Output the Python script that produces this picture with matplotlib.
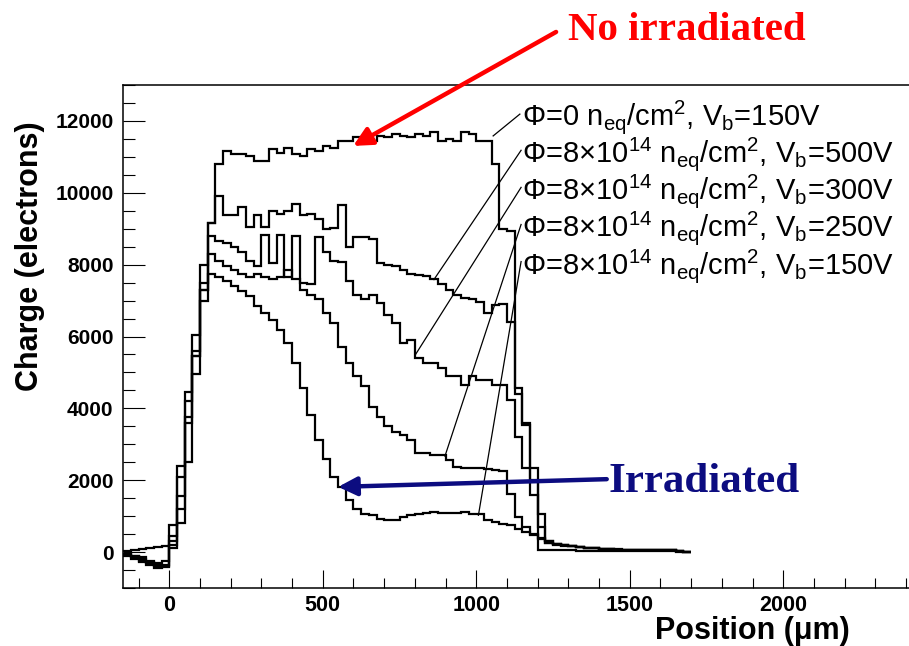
import numpy as np
import matplotlib
matplotlib.use('Agg')
import matplotlib.pyplot as plt
from matplotlib.ticker import MultipleLocator

plt.rcParams['font.family'] = ['Liberation Sans', 'DejaVu Sans']
plt.rcParams['mathtext.fontset'] = 'custom'
plt.rcParams['mathtext.rm'] = 'Liberation Sans'
plt.rcParams['mathtext.it'] = 'Liberation Sans:italic'
plt.rcParams['mathtext.bf'] = 'Liberation Sans:bold'

# strip scan binning (um), 25 um pitch
bin_edges = np.arange(-150, 1725, 25)

# collected charge per bin (electrons)
charge_phi0_150v = [
    20, 50, 80, 110, 140, 170,
    750, 2400, 4450, 6050, 8000, 9150,
    10800, 11160, 11070, 11070, 11020, 10890, 10890, 11210, 11120, 11260,
    11070, 11020, 11210, 11160, 11300, 11260, 11440, 11440, 11540, 11500,
    11440, 11580, 11540, 11630, 11580, 11540, 11630, 11580, 11680, 11440,
    11490, 11440, 11680, 11630, 11440, 11440, 10800,
    9000, 8950, 4560, 3550, 2330, 60, 50,
    50, 50, 45, 40, 40, 35, 30, 30, 30, 25, 30, 35, 40, 35, 30, 25, 15, 10,
]
charge_phi8_500v = [
    -50, -100, -150, -250, -300, -250,
    450, 2100, 4200, 5600, 7500, 9150,
    9900, 9370, 9380, 9600, 9050, 9370, 9050, 9500, 9420, 9500,
    9680, 9370, 9400, 9280, 8980, 9020, 9650, 8500, 8780, 8770,
    8720, 8050, 7980, 7950, 7860, 7750, 7720, 7680, 7600, 7450,
    7300, 7160, 7080, 7050, 6960, 6650, 6890,
    6900, 6400, 4400, 3580, 2000, 1070, 300,
    220, 190, 160, 140, 120, 105, 95, 85, 75, 65, 60, 55, 50, 55, 60, 50, 35, 15,
]
charge_phi8_300v = [
    -80, -150, -250, -300, -350, -350,
    300, 1550, 3750, 5450, 7300, 8800,
    8650, 8600, 8500, 8350, 8100, 7950, 8830, 8050, 8830, 7650,
    8800, 7500, 7450, 8780, 8350, 8100, 8080, 7550, 7150, 7030,
    7160, 6930, 6600, 6380, 5820, 5900, 5400, 5260, 5260, 5120,
    4890, 4890, 4650, 4890, 4790, 4790, 4650,
    4650, 4230, 3200, 2330, 1600, 700, 250,
    210, 180, 155, 135, 115, 100, 90, 80, 70, 60, 55, 50, 45, 50, 55, 45, 30, 10,
]
charge_phi8_250v = [
    -60, -120, -200, -280, -400, -380,
    200, 1200, 3600, 5450, 7300, 8300,
    8100, 7950, 7850, 7750, 7650, 7750, 7650, 7600, 7650, 7850,
    7600, 7300, 7160, 7050, 6650, 6380, 5720, 5260, 4890, 4610,
    4050, 3770, 3500, 3350, 3260, 3120, 2750, 2750, 2700, 2700,
    2560, 2370, 2330, 2330, 2330, 2300, 2280,
    2250, 1630, 980, 700, 510, 380, 260,
    220, 185, 160, 140, 120, 105, 90, 80, 70, 65, 60, 50, 45, 50, 55, 50, 30, 10,
]
charge_phi8_150v = [
    -100, -180, -280, -350, -450, -420,
    100, 800, 2500, 4950, 7000, 7750,
    7650, 7540, 7400, 7260, 7120, 6840, 6650, 6460, 6190, 5820,
    5260, 4560, 3810, 3120, 2600, 2090, 1810, 1440, 1210, 1050,
    1020, 930, 885, 900, 980, 1020, 1070, 1100, 1120, 1100,
    1100, 1100, 1120, 1070, 1070, 880, 840,
    790, 745, 650, 560, 470, 370, 300,
    230, 190, 160, 135, 115, 100, 90, 80, 70, 60, 55, 50, 45, 50, 55, 45, 30, 10,
]

profiles = [charge_phi0_150v, charge_phi8_500v, charge_phi8_300v,
            charge_phi8_250v, charge_phi8_150v]

labels = [
    r'$\Phi$=0 n$_{\mathrm{eq}}$/cm$^{2}$, V$_{\mathrm{b}}$=150V',
    r'$\Phi$=8$\times$10$^{14}$ n$_{\mathrm{eq}}$/cm$^{2}$, V$_{\mathrm{b}}$=500V',
    r'$\Phi$=8$\times$10$^{14}$ n$_{\mathrm{eq}}$/cm$^{2}$, V$_{\mathrm{b}}$=300V',
    r'$\Phi$=8$\times$10$^{14}$ n$_{\mathrm{eq}}$/cm$^{2}$, V$_{\mathrm{b}}$=250V',
    r'$\Phi$=8$\times$10$^{14}$ n$_{\mathrm{eq}}$/cm$^{2}$, V$_{\mathrm{b}}$=150V',
]
# where each label baseline sits and where its pointer line lands on the curve
label_x = 1148
label_y = [11880, 10847, 9814, 8781, 7748]
pointer_start = [(1142, 12190), (1146, 11183), (1146, 10151), (1146, 9118), (1146, 8086)]
pointer_end = [(1055, 11583), (862, 7583), (800, 5470), (898, 2670), (1007, 1024)]

fig = plt.figure(figsize=(9.09, 6.46), dpi=100, facecolor='white')
ax = fig.add_axes([0.1356, 0.0898, 0.878, 0.7786])

for vals in profiles:
    ax.stairs(vals, bin_edges, baseline=None, color='black', linewidth=1.6)

for lab, y, p0, p1 in zip(labels, label_y, pointer_start, pointer_end):
    ax.text(label_x, y, lab, fontsize=21, ha='left', va='baseline')
    ax.plot([p0[0], p1[0]], [p0[1], p1[1]], color='black', linewidth=0.9)

ax.set_xlim(-150, 2450)
ax.set_ylim(-1000, 13000)

ax.xaxis.set_major_locator(MultipleLocator(500))
ax.xaxis.set_minor_locator(MultipleLocator(100))
ax.yaxis.set_major_locator(MultipleLocator(2000))
ax.yaxis.set_minor_locator(MultipleLocator(500))
ax.tick_params(axis='both', which='both', direction='in', width=0.8,
               top=False, right=False)
ax.tick_params(axis='y', which='major', length=15.5, pad=7)
ax.tick_params(axis='y', which='minor', length=8.5)
ax.tick_params(axis='x', which='major', length=13, pad=5)
ax.tick_params(axis='x', which='minor', length=7)
for lab in ax.get_yticklabels():
    lab.set_fontsize(15)
    lab.set_fontweight('bold')
for lab in ax.get_xticklabels():
    lab.set_fontsize(15.5)
    lab.set_fontweight('bold')
for sp in ax.spines.values():
    sp.set_linewidth(1.1)

ax.set_ylabel('Charge (electrons)', fontsize=22, fontweight='bold')
ax.yaxis.label.set_va('center')
ax.yaxis.set_label_coords(-0.1165, 0.659)
ax.set_xlabel('Position (μm)', fontsize=22, fontweight='bold', ha='right')
ax.xaxis.label.set_va('center')
ax.xaxis.set_label_coords(0.91, -0.086)

# callouts
ax.annotate('', xy=(599, 11304), xytext=(1260, 14477),
            arrowprops=dict(arrowstyle='-|>', color='#ff0000', lw=3.2,
                            mutation_scale=28, shrinkA=0, shrinkB=0),
            annotation_clip=False)
fig.text(568 / 909, 1 - 40 / 646, 'No irradiated', color='#ff0000',
         fontsize=29.5, fontweight='bold', family='Liberation Serif',
         ha='left', va='baseline')

ax.annotate('', xy=(550, 1814), xytext=(1425, 2029),
            arrowprops=dict(arrowstyle='-|>', color='#0c0c80', lw=3.2,
                            mutation_scale=28, shrinkA=0, shrinkB=0),
            annotation_clip=False)
fig.text(608 / 909, 1 - 492 / 646, 'Irradiated', color='#0c0c80',
         fontsize=31, fontweight='bold', family='Liberation Serif',
         ha='left', va='baseline')

fig.savefig('out.png', dpi=100, facecolor='white')
